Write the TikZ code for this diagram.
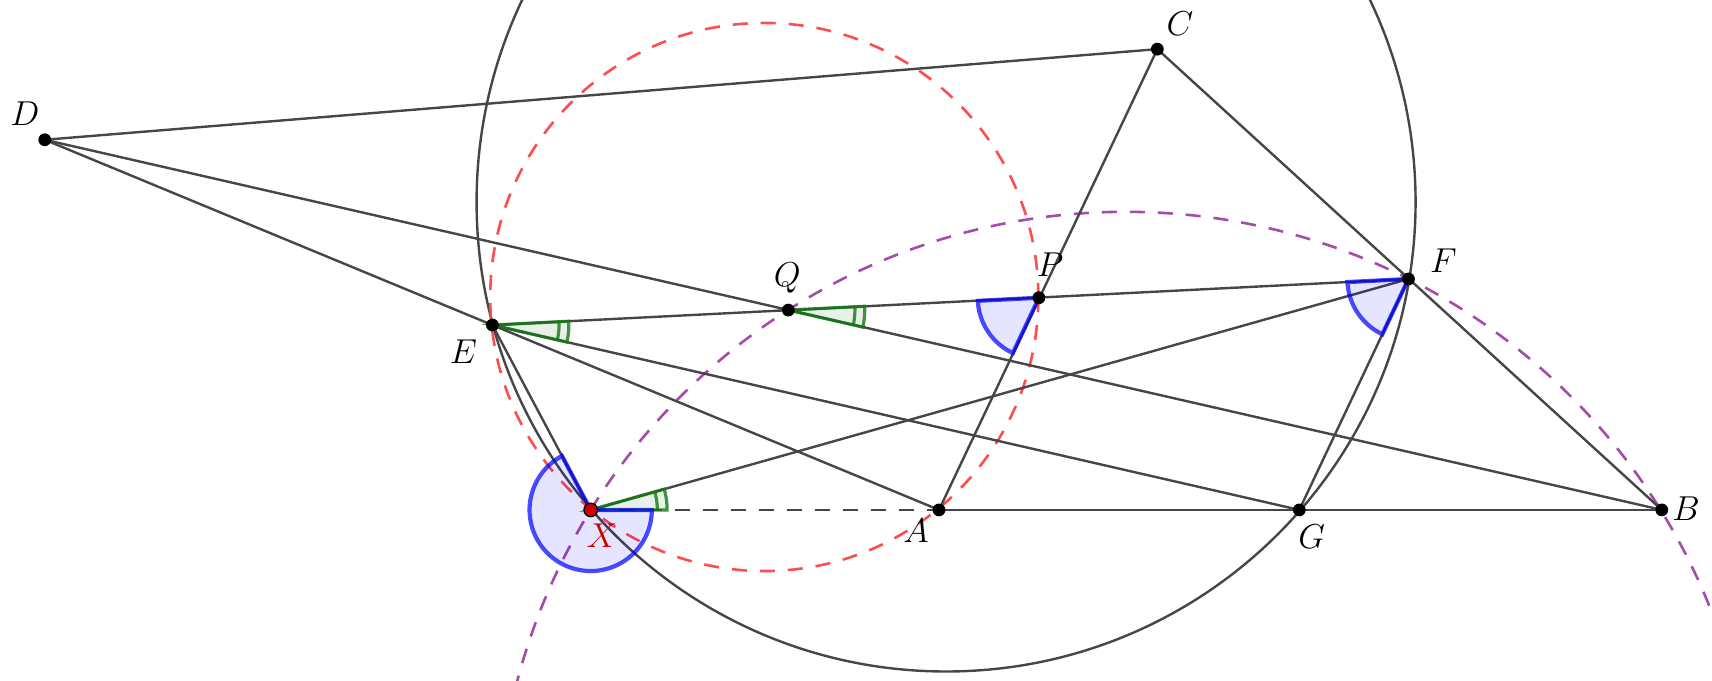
\documentclass[tikz,border=0pt]{standalone}
\usetikzlibrary{calc}
\definecolor{ln}{RGB}{70,70,70}
\definecolor{rd}{RGB}{255,77,77}
\definecolor{pu}{RGB}{165,75,170}
\definecolor{gr}{RGB}{20,120,20}
\definecolor{xr}{RGB}{204,0,0}
\begin{document}
\begin{tikzpicture}[x=0.5459pt,y=-0.5459pt,
  seg/.style={draw=ln,line width=1.2pt},
  dsh/.style={dash pattern=on 7.5pt off 6.5pt},
  pt/.style={circle,fill=black,inner sep=0pt,minimum size=6.4pt},
  lab/.style={font=\fontsize{16}{19}\selectfont},
  gsec/.style={fill=gr,fill opacity=0.1,draw=gr,draw opacity=0.8,line width=1.6pt},
  garc/.style={draw=gr,draw opacity=0.8,line width=1.6pt},
  bsec/.style={fill=blue,fill opacity=0.1,draw=blue,draw opacity=0.7,line width=2.1pt}]
\useasboundingbox (0,0) rectangle (1568,622.8);
\clip (0,0) rectangle (1568,622.8);

% points
\coordinate (D) at (41,128);
\coordinate (C) at (1060,45);
\coordinate (E) at (451,297.7);
\coordinate (Q) at (722,284);
\coordinate (P) at (951.5,272.7);
\coordinate (F) at (1290,255.5);
\coordinate (X) at (541,467);
\coordinate (A) at (860,467);
\coordinate (G) at (1190,467);
\coordinate (B) at (1522,467);
% circle centres
\coordinate (O1) at (866.5,185);
\coordinate (O2) at (700,272);
\coordinate (O3) at (1031,770);

% circles
\draw[seg] (O1) circle[radius=430];
\draw[rd,line width=1.3pt,dsh] (O2) circle[radius=251];
\draw[pu,line width=1.3pt,dsh] (O3) circle[radius=576];

% segments
\draw[seg] (D) -- (C);
\draw[seg] (D) -- (A);
\draw[seg] (D) -- (B);
\draw[seg] (C) -- (A);
\draw[seg] (C) -- (B);
\draw[seg] (E) -- (F);
\draw[seg] (E) -- (G);
\draw[seg] (E) -- (X);
\draw[seg] (X) -- (F);
\draw[seg] (F) -- (G);
\draw[seg] (A) -- (B);
\draw[seg,dsh] (X) -- (A);

% green angles
\draw[gsec,shift={(E)}] (0,0) -- plot[domain=-2.85:12.9,samples=20] (\x:70) -- cycle;
\draw[garc,shift={(E)}] plot[domain=-2.85:12.9,samples=20] (\x:61);
\draw[gsec,shift={(Q)}] (0,0) -- plot[domain=-2.87:12.88,samples=20] (\x:70) -- cycle;
\draw[garc,shift={(Q)}] plot[domain=-2.87:12.88,samples=20] (\x:61);
\draw[gsec,shift={(X)}] (0,0) -- plot[domain=-15.77:0,samples=20] (\x:70) -- cycle;
\draw[garc,shift={(X)}] plot[domain=-15.77:0,samples=20] (\x:61);

% blue angles
\draw[bsec,shift={(P)}] (0,0) -- plot[domain=115.2:177.1,samples=30] (\x:56) -- cycle;
\draw[bsec,shift={(F)}] (0,0) -- plot[domain=115.3:177.1,samples=30] (\x:56) -- cycle;
\draw[bsec,shift={(X)}] (0,0) -- plot[domain=0:242,samples=90] (\x:56) -- cycle;

% dots
\foreach \p in {D,C,E,Q,P,F,A,G,B}{\node[pt] (n\p) at (\p) {};}
\node[pt,fill=xr,draw=black,line width=0.6pt,minimum size=6.8pt] (nX) at (X) {};

% labels
\node[lab] (lD) at (22.9,103.8) {$D$};
\node[lab] (lC) at (1080.8,21.4) {$C$};
\node[lab] (lE) at (424.4,322.1) {$E$};
\node[lab] (lQ) at (721,255) {$Q$};
\node[lab] (lP) at (961.7,242.7) {$P$};
\node[lab] (lF) at (1321.9,238.8) {$F$};
\node[lab,text=xr] (lX) at (551.4,490.6) {$X$};
\node[lab] (lA) at (839,486) {$A$};
\node[lab] (lG) at (1201.4,491.5) {$G$};
\node[lab] (lB) at (1544.2,466.2) {$B$};
\end{tikzpicture}
\end{document}
